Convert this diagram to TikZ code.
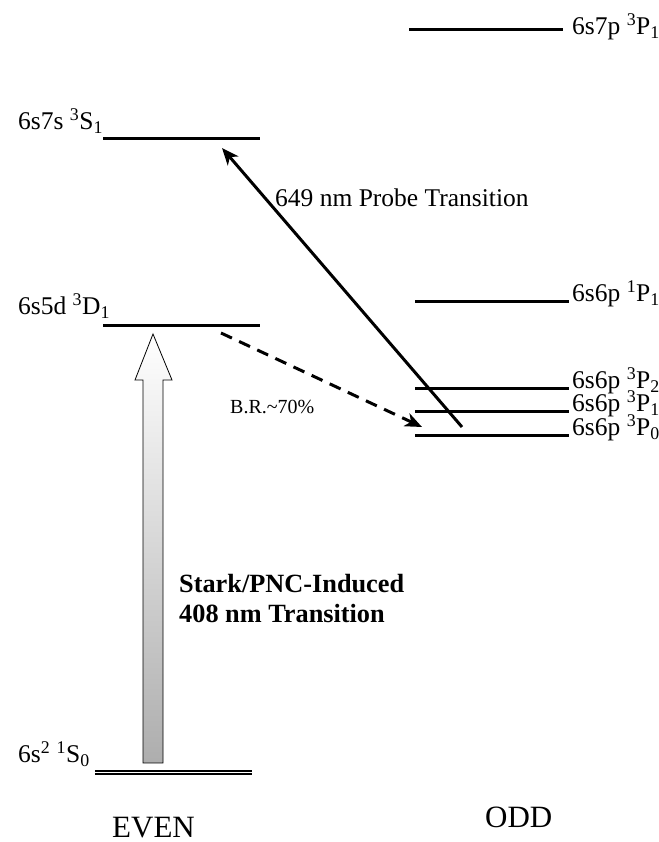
\documentclass[tikz,border=0pt]{standalone}
\usepackage{fontspec}
\setmainfont{Liberation Serif}
\usetikzlibrary{arrows.meta}
\newcommand{\sps}[1]{\textsuperscript{#1}}
\newcommand{\sbs}[1]{\textsubscript{#1}}
\begin{document}
\begin{tikzpicture}[x=1pt,y=1pt,
  levelline/.style={line width=3pt},
  lbl/.style={inner sep=0pt, anchor=base west, font=\fontsize{25.5}{30}\selectfont},
  smalllbl/.style={inner sep=0pt, anchor=base west, font=\fontsize{20}{24}\selectfont},
  boldlbl/.style={inner sep=0pt, anchor=base west, align=left, font=\fontsize{26.3}{30}\selectfont\bfseries},
  sidelbl/.style={inner sep=0pt, anchor=base west, font=\fontsize{31}{36}\selectfont},
  probe/.style={line width=3pt, -{Stealth[length=17pt,width=14pt,inset=5pt]}},
  decay/.style={line width=3pt, dash pattern=on 12pt off 8pt, -{Stealth[length=17pt,width=14pt,inset=5pt]}},
  bigarrow/.style={line width=0.8pt, draw=black, top color=white, bottom color=black!32}
]
\useasboundingbox (0,0) rectangle (658,842);

% level end points
\coordinate (p7a) at (409,812); \coordinate (p7b) at (563,812);
\coordinate (s7a) at (103,703); \coordinate (s7b) at (260,703);
\coordinate (d5a) at (103,516); \coordinate (d5b) at (260,516);
\coordinate (p1a) at (415,540); \coordinate (p1b) at (569,540);
\coordinate (t2a) at (415,453); \coordinate (t2b) at (569,453);
\coordinate (t1a) at (415,430); \coordinate (t1b) at (569,430);
\coordinate (t0a) at (415,406); \coordinate (t0b) at (569,406);
\coordinate (g0a) at (95,69.5);  \coordinate (g0b) at (252,69.5);

\draw[levelline] (p7a) -- (p7b);
\draw[levelline] (s7a) -- (s7b);
\draw[levelline] (d5a) -- (d5b);
\draw[levelline] (p1a) -- (p1b);
\draw[levelline] (t2a) -- (t2b);
\draw[levelline] (t1a) -- (t1b);
\draw[levelline] (t0a) -- (t0b);
\draw[line width=1.6pt, double distance=1.4pt] (g0a) -- (g0b);

% labels
\node[lbl] (lp7) at (572,807) {6s7p \sps{3}P\sbs{1}};
\node[lbl] (ls7) at (18,712) {6s7s \sps{3}S\sbs{1}};
\node[lbl] (ld5) at (18,527) {6s5d \sps{3}D\sbs{1}};
\node[lbl] (lp1) at (572,540) {6s6p \sps{1}P\sbs{1}};
\node[lbl] (lt2) at (572,453) {6s6p \sps{3}P\sbs{2}};
\node[lbl] (lt1) at (572,430) {6s6p \sps{3}P\sbs{1}};
\node[lbl] (lt0) at (572,406) {6s6p \sps{3}P\sbs{0}};
\node[lbl] (lg0) at (18,79) {6s\sps{2} \sps{1}S\sbs{0}};

% big excitation arrow
\coordinate (bt) at (153,508);
\draw[bigarrow] (135,462) -- (bt) -- (172,462) -- (163,462) -- (163,79) -- (143,79) -- (143,462) -- cycle;
\node[boldlbl] (stark) at (179,249) {Stark/PNC-Induced};
\node[boldlbl] (nm408) at (179,219) {408 nm Transition};

% probe transition
\coordinate (ptail) at (462,415);
\coordinate (ptip) at (222,694);
\draw[probe] (ptail) -- (ptip);
\node[lbl] (plbl) at (275,635) {649 nm Probe Transition};

% decay
\coordinate (dstart) at (221,509);
\coordinate (dend) at (422,415);
\draw[decay] (dstart) -- (dend);
\node[smalllbl] (br) at (230,428) {B.R.\textasciitilde70\%};

% parity labels
\node[sidelbl] (even) at (112,5) {EVEN};
\node[sidelbl] (odd) at (485,14) {ODD};
\end{tikzpicture}
\end{document}
